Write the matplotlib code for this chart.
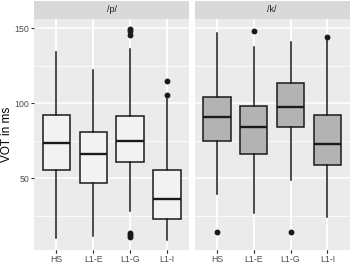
import matplotlib
matplotlib.use("Agg")
import matplotlib.pyplot as plt
import numpy as np

plt.rcParams["font.family"] = ["Liberation Sans", "DejaVu Sans"]

categories = ["HS", "L1-E", "L1-G", "L1-I"]
panels = ["/p/", "/k/"]

# p stats
p_whislo = [10.4, 11.5, 28.1, 9.3]
p_q1 = [55.3, 46.9, 60.8, 23.2]
p_med = [73.5, 66.2, 75.2, 36.3]
p_q3 = [92.3, 81.2, 91.2, 55.3]
p_whishi = [134.3, 122.1, 135.8, 102.9]
p_fliers = [[], [], [149.6, 148.2, 145.4, 13.6, 12.1, 10.7], [115.0, 105.5]]

# k stats
k_whislo = [39.6, 27.0, 49.1, 24.1]
k_q1 = [74.8, 66.4, 84.5, 58.6]
k_med = [90.9, 84.1, 97.8, 72.8]
k_q3 = [104.4, 98.2, 113.5, 92.0]
k_whishi = [146.5, 137.2, 140.7, 142.5]
k_fliers = [[14.4], [148.0], [14.4], [143.8]]

fills = ["#F2F2F2", "#B3B3B3"]

def stats(lo, q1, med, q3, hi, fl):
    return [dict(whislo=a, q1=b, med=c, q3=d, whishi=e, fliers=f, label=lab)
            for a, b, c, d, e, f, lab in zip(lo, q1, med, q3, hi, fl, categories)]

all_stats = [stats(p_whislo, p_q1, p_med, p_q3, p_whishi, p_fliers),
             stats(k_whislo, k_q1, k_med, k_q3, k_whishi, k_fliers)]

fig = plt.figure(figsize=(3.5, 2.63), dpi=100)
W, H = 350, 263
panel_x = [(34.3, 189.3), (194.7, 349.5)]
top_px, bot_px = 18.5, 249.5
strip_top = 1.0

for i, (x0, x1) in enumerate(panel_x):
    ax = fig.add_axes([x0 / W, 1 - bot_px / H, (x1 - x0) / W, (bot_px - top_px) / H])
    ax.set_facecolor("#EBEBEB")
    for s in ax.spines.values():
        s.set_visible(False)
    ax.set_xlim(0.4, 4.6)
    ax.set_ylim(2.7, 156.4)
    ax.set_yticks([50, 100, 150])
    ax.set_yticks([25, 75, 125], minor=True)
    ax.set_xticks(range(1, 5))
    ax.set_xticklabels(categories)
    ax.grid(True, which="major", color="white", lw=1.1)
    ax.grid(True, which="minor", axis="y", color="white", lw=0.55)
    ax.set_axisbelow(True)
    ax.tick_params(axis="both", which="major", color="#333333", length=2.5, width=0.8,
                   labelsize=6.3, labelcolor="#4D4D4D", pad=1.3)
    ax.tick_params(axis="y", which="minor", length=0)
    if i == 1:
        ax.tick_params(axis="y", which="both", left=False, labelleft=False)
    ax.bxp(all_stats[i], positions=range(1, 5), widths=0.75, patch_artist=True,
           showcaps=False,
           boxprops=dict(facecolor=fills[i], edgecolor="#1A1A1A", lw=1.1),
           medianprops=dict(color="#1A1A1A", lw=1.7),
           whiskerprops=dict(color="#1A1A1A", lw=1.1),
           flierprops=dict(marker="o", markerfacecolor="#1A1A1A", markeredgecolor="#1A1A1A",
                           markersize=3.2))
    # strip
    sax = fig.add_axes([x0 / W, 1 - top_px / H, (x1 - x0) / W, (top_px - strip_top) / H])
    sax.set_facecolor("#D9D9D9")
    sax.set_xticks([]); sax.set_yticks([])
    for s in sax.spines.values():
        s.set_visible(False)
    sax.text(0.5, 0.5, panels[i], ha="center", va="center", fontsize=6.5, color="#1A1A1A",
             transform=sax.transAxes)

fig.text(6.7 / W, 1 - ((top_px + bot_px) / 2) / H, "VOT in ms", rotation=90,
         ha="center", va="center", fontsize=8.5, color="black")

fig.savefig("out.png", dpi=100)
